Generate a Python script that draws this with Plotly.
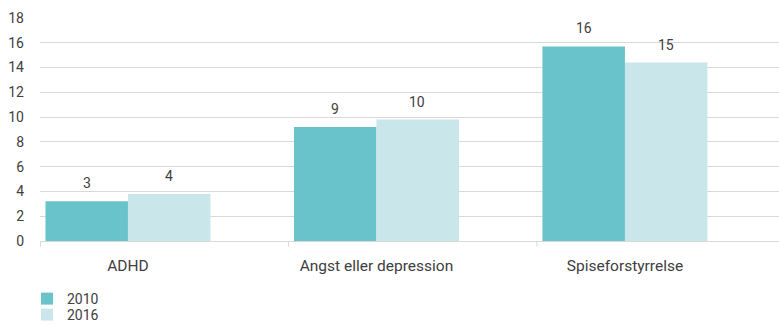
import plotly.graph_objects as go

categories = ["ADHD", "Angst eller depression", "Spiseforstyrrelse"]
series_names = ["2010", "2016"]
values_2010 = [3.2, 9.2, 15.7]
values_2016 = [3.8, 9.8, 14.4]
labels_2010 = ["3", "9", "16"]
labels_2016 = ["4", "10", "15"]
y_ticks = [0, 2, 4, 6, 8, 10, 12, 14, 16, 18]

colors = ["#69C3CB", "#C9E6EA"]
font_family = "Roboto, 'DejaVu Sans', sans-serif"
text_color = "#404040"

fig = go.Figure()
for name, vals, col, lg in zip(series_names, [values_2010, values_2016], colors, ["legend", "legend2"]):
    fig.add_trace(go.Bar(
        x=categories, y=vals, name=name, legend=lg,
        marker=dict(color=col, line=dict(width=0)),
        hoverinfo="skip",
    ))

annotations = []
for vals, labs, shift in [(values_2010, labels_2010, -41), (values_2016, labels_2016, 41)]:
    for c, v, t in zip(categories, vals, labs):
        annotations.append(dict(
            x=c, y=v, xref="x", yref="y", text=t, showarrow=False,
            xshift=shift, yshift=18, yanchor="middle",
            font=dict(size=14, color=text_color, family=font_family),
        ))

# small boundary tick marks under the category axis
shapes = []
for b in [-0.352, 0.646, 1.646]:
    shapes.append(dict(type="line", xref="x", yref="paper", x0=b, x1=b, y0=0, y1=-0.025,
                       line=dict(color="#d9d9d9", width=1)))

legend_common = dict(
    orientation="v", xref="container", yref="container",
    x=27 / 779, xanchor="left", yanchor="top",
    font=dict(size=14, color=text_color), tracegroupgap=0,
    itemwidth=30, bgcolor="rgba(0,0,0,0)",
)

fig.update_layout(
    width=779, height=325,
    margin=dict(l=40, r=0, t=18, b=84, autoexpand=False),
    paper_bgcolor="white", plot_bgcolor="white",
    barmode="group", bargap=0.336, bargroupgap=0,
    font=dict(family=font_family, size=14, color=text_color),
    xaxis=dict(
        range=[-0.354, 2.62], showgrid=False,
        showline=False, zeroline=False,
        ticks="outside", ticklen=10, tickcolor="rgba(0,0,0,0)",
        tickfont=dict(size=15.5, color=text_color),
    ),
    yaxis=dict(
        range=[0, 18], tickvals=y_ticks, showgrid=True, gridcolor="#d9d9d9", gridwidth=1,
        zeroline=True, zerolinecolor="#d9d9d9", zerolinewidth=1,
        showline=False, ticks="", ticklabelstandoff=15,
        tickfont=dict(size=14, color=text_color),
    ),
    legend=dict(legend_common, y=1 - 283 / 325),
    legend2=dict(legend_common, y=1 - 299 / 325),
    annotations=annotations,
    shapes=shapes,
    showlegend=True,
)

fig.write_html("out.html")
